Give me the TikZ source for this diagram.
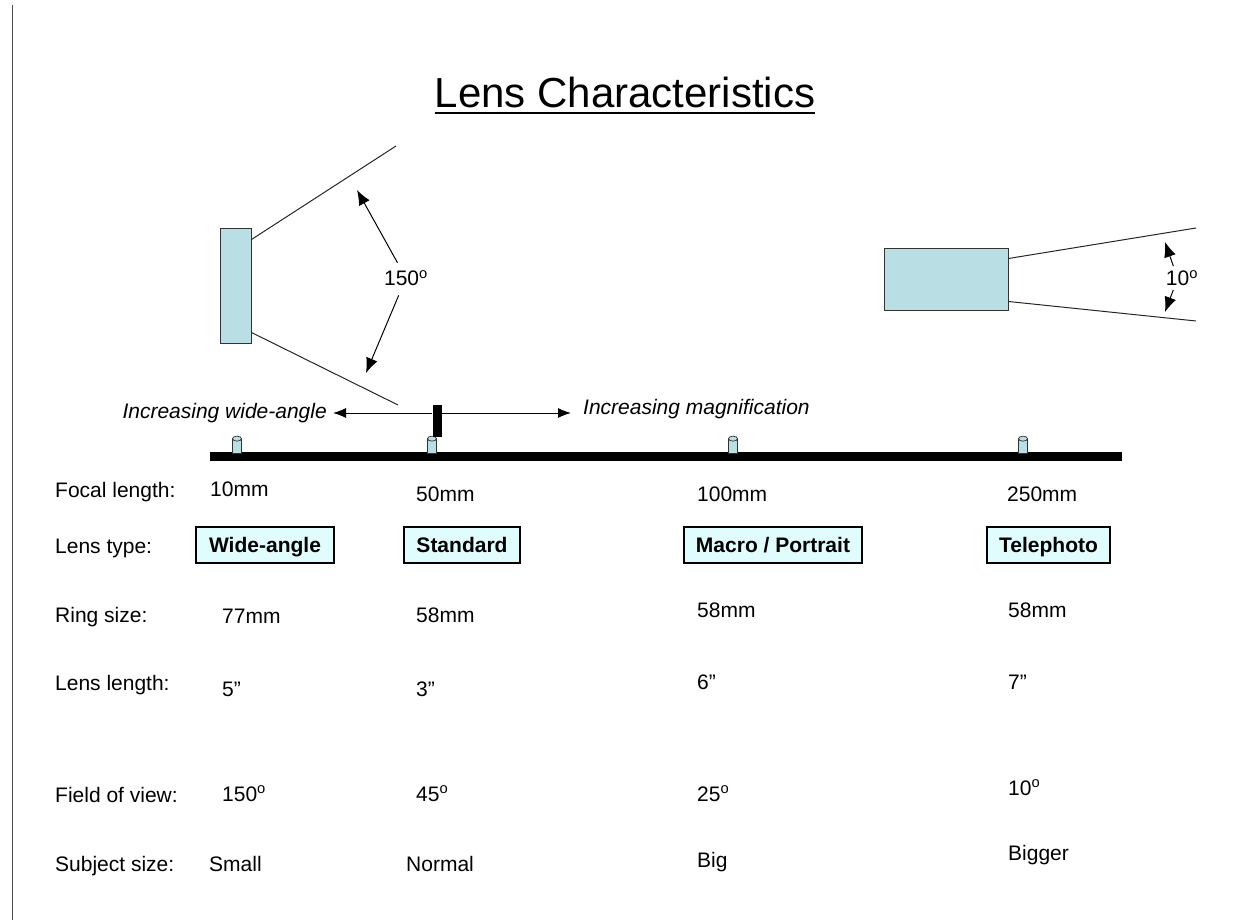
\documentclass[tikz,border=0pt]{standalone}
\usepackage{fontspec}
\setmainfont{Liberation Sans}
\usetikzlibrary{arrows.meta}
\definecolor{lensfill}{RGB}{185,223,228}
\definecolor{boxfill}{RGB}{224,252,253}
\definecolor{edge}{RGB}{50,50,50}
\newcommand{\dgr}{\textsuperscript{o}}
\tikzset{
  lbl/.style={anchor=base west, inner sep=0pt, font=\fontsize{21}{25}\selectfont},
  ital/.style={inner sep=0pt, font=\fontsize{21}{25}\selectfont\itshape},
  typebox/.style={draw=black, line width=1.6pt, fill=boxfill, minimum height=36pt, inner sep=0pt, text height=15pt, text depth=0pt, font=\fontsize{21}{25}\selectfont\bfseries},
  lensbody/.style={draw=edge, line width=1pt, fill=lensfill, inner sep=0pt},
  ray/.style={draw=black!85, line width=1pt},
  bigarrow/.style={line width=1pt, -{Latex[length=15pt,width=12pt]}},
  hz/.style={line width=1pt, -{Latex[length=13pt,width=10pt]}},
  peg/.style={draw=edge, line width=0.7pt, fill=lensfill, minimum width=9pt, minimum height=14pt, inner sep=0pt},
  pegtop/.style={draw=edge, line width=0.7pt, fill=lensfill},
}
\begin{document}
\begin{tikzpicture}[x=1pt,y=-1pt]
\useasboundingbox (0,0) rectangle (1254,920);
% left frame line
\coordinate (ftop) at (12,5);
\coordinate (fbot) at (12,920);
\draw[line width=1pt, draw=black!70] (ftop) -- (fbot);

% title
\node[anchor=base, inner sep=0pt, font=\fontsize{42}{50}\selectfont] (title) at (625,108) {Lens Characteristics};
\draw[line width=2pt] ([yshift=-5pt]title.base west) -- ([yshift=-5pt]title.base east);

% wide-angle lens
\node[lensbody, minimum width=31pt, minimum height=114pt] (wl) at (235.5,286) {};
\coordinate (wlt) at (396,146);
\coordinate (wlb) at (398,405);
\draw[ray] ([yshift=-11pt]wl.north east) -- (wlt);
\draw[ray] ([yshift=11pt]wl.south east) -- (wlb);
\node[inner sep=2pt, font=\fontsize{21}{25}\selectfont] (a150) at (406,278) {150\dgr};
\coordinate (w1) at (357,190);
\coordinate (w2) at (366,373);
\draw[bigarrow, shorten <=6pt] (a150) -- (w1);
\draw[bigarrow, shorten <=8pt] (a150) -- (w2);

% telephoto lens
\node[lensbody, minimum width=124pt, minimum height=62pt] (tl) at (946,280) {};
\coordinate (tlt) at (1196,228);
\coordinate (tlb) at (1196,321);
\draw[ray] ([yshift=-10pt]tl.north east) -- (tlt);
\draw[ray] ([yshift=10pt]tl.south east) -- (tlb);
\node[inner sep=2pt, font=\fontsize{21}{25}\selectfont] (a10) at (1182,278) {10\dgr};
\coordinate (t1) at (1165,242);
\coordinate (t2) at (1165,312);
\draw[bigarrow, shorten <=2pt] ([xshift=-8pt]a10.north) -- (t1);
\draw[bigarrow, shorten <=2pt] ([xshift=-8pt]a10.south) -- (t2);

% scale bar
\node[fill=black, inner sep=0pt, minimum width=912pt, minimum height=9pt] (bar) at (666,456.5) {};
\foreach \n/\x in {1/237,2/432,3/733,4/1023}{
  \node[peg] (p\n) at (\x,446) {};
  \draw[pegtop] (p\n.north) ellipse [x radius=4.5pt, y radius=2.5pt];
}
\node[fill=black, inner sep=0pt, minimum width=9pt, minimum height=32pt] (mk) at (437,421) {};

\node[ital, anchor=east] (incw) at (327,413) {Increasing wide-angle};
\node[ital, anchor=west] (incm) at (583,409) {Increasing magnification};
\coordinate (lend) at (333,413);
\coordinate (rend) at (571,413);
\draw[hz] ([yshift=8pt]mk.west) -- (lend);
\draw[hz] ([yshift=8pt]mk.east) -- (rend);

% row labels
\node[lbl] (hfl) at (55,497) {Focal length:};
\node[lbl] (hlt) at (55,553) {Lens type:};
\node[lbl] (hrs) at (55,622) {Ring size:};
\node[lbl] (hll) at (55,690) {Lens length:};
\node[lbl] (hfv) at (55,802) {Field of view:};
\node[lbl] (hss) at (55,871) {Subject size:};

% column 1
\node[lbl] (f1) at (210,496) {10mm};
\node[typebox, minimum width=138pt] (b1) at (265,545) {Wide-angle};
\node[lbl] (r1) at (222,623) {77mm};
\node[lbl] (l1) at (222,696) {5”};
\node[lbl] (v1) at (222,801) {150\dgr};
\node[lbl] (s1) at (209,871) {Small};

% column 2
\node[lbl] (f2) at (416,501) {50mm};
\node[typebox, minimum width=116pt] (b2) at (462,545) {Standard};
\node[lbl] (r2) at (416,622) {58mm};
\node[lbl] (l2) at (416,696) {3”};
\node[lbl] (v2) at (416,801) {45\dgr};
\node[lbl] (s2) at (406,871) {Normal};

% column 3
\node[lbl] (f3) at (697,501) {100mm};
\node[typebox, minimum width=178pt] (b3) at (773,545) {Macro / Portrait};
\node[lbl] (r3) at (697,617) {58mm};
\node[lbl] (l3) at (697,689) {6”};
\node[lbl] (v3) at (697,801) {25\dgr};
\node[lbl] (s3) at (697,867) {Big};

% column 4
\node[lbl] (f4) at (1007,501) {250mm};
\node[typebox, minimum width=123pt] (b4) at (1048.5,545) {Telephoto};
\node[lbl] (r4) at (1008,617) {58mm};
\node[lbl] (l4) at (1008,689) {7”};
\node[lbl] (v4) at (1008,795) {10\dgr};
\node[lbl] (s4) at (1008,860) {Bigger};
\end{tikzpicture}
\end{document}
